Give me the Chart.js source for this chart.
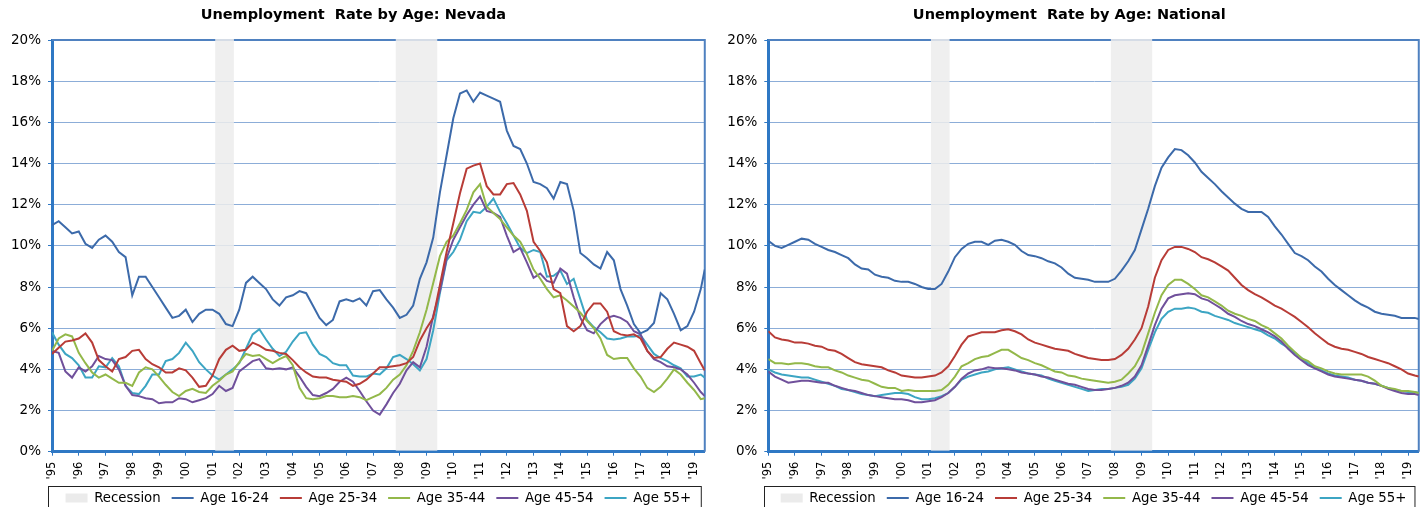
<!DOCTYPE html>
<html>
<head>
<meta charset="utf-8">
<script src="https://cdn.jsdelivr.net/npm/chart.js@4.4.1/dist/chart.umd.min.js"></script>
<style>
    html, body { margin: 0; padding: 0; background: #ffffff; }
    #wrap { display: flex; width: 1428px; height: 507px; overflow: hidden; }
    .box { position: relative; width: 714px; height: 507px; }
</style>
</head>
<body>
<div id="wrap">
    <div class="box"><canvas id="nevadaChart"></canvas></div>
    <div class="box"><canvas id="nationalChart"></canvas></div>
</div>
<script>
// quarterly readings, Jan 1995 .. Apr 2019, plus the last month shown (May 2019)
const quarters = [];
for (let q = 0; q < 98; q++) quarters.push(1995 + q / 4);
quarters.push(2019.4);

const recessionStart = [2001.1, 2007.85];
const recessionEnd = [2001.8, 2009.4];

const seriesLabels = ['Age 16-24', 'Age 25-34', 'Age 35-44', 'Age 45-54', 'Age 55+'];
const seriesColors = ['#3C6AAA', '#B83C37', '#93B84A', '#70509B', '#3CA5C3'];

// Nevada
const nvAge16to24 = [
    11.0, 11.2, 10.9, 10.6,
    10.7, 10.1, 9.9, 10.3,
    10.5, 10.2, 9.7, 9.45,
    7.6, 8.5, 8.5, 8.0,
    7.5, 7.0, 6.5, 6.6,
    6.9, 6.3, 6.7, 6.9,
    6.9, 6.7, 6.2, 6.1,
    6.9, 8.2, 8.5, 8.2,
    7.9, 7.4, 7.1, 7.5,
    7.6, 7.8, 7.7, 7.1,
    6.5, 6.15, 6.4, 7.3,
    7.4, 7.3, 7.45, 7.1,
    7.8, 7.85, 7.4, 7.0,
    6.5, 6.65, 7.1, 8.4,
    9.2, 10.4, 12.6, 14.4,
    16.2, 17.4, 17.55, 17.0,
    17.45, 17.3, 17.15, 17.0,
    15.6, 14.85, 14.7, 14.0,
    13.1, 13.0, 12.8, 12.3,
    13.1, 13.0, 11.7, 9.65,
    9.4, 9.1, 8.9, 9.7,
    9.3, 7.9, 7.1, 6.2,
    5.75, 5.9, 6.25, 7.7,
    7.4, 6.7, 5.9, 6.1,
    6.8, 7.9, 8.85
];
const nvAge25to34 = [
    4.75, 5.05, 5.35, 5.4,
    5.5, 5.75, 5.3, 4.45,
    4.15, 3.9, 4.5, 4.6,
    4.9, 4.95, 4.5, 4.25,
    4.1, 3.85, 3.85, 4.05,
    3.95, 3.6, 3.15, 3.2,
    3.7, 4.5, 4.95, 5.15,
    4.9, 4.95, 5.3, 5.15,
    4.95, 4.9, 4.8, 4.75,
    4.45, 4.1, 3.85, 3.65,
    3.6, 3.6, 3.5, 3.45,
    3.4, 3.2, 3.3, 3.5,
    3.8, 4.1, 4.1, 4.15,
    4.2, 4.3, 4.6, 5.4,
    6.0, 6.5, 8.1, 9.7,
    11.1, 12.55, 13.75, 13.9,
    14.0, 12.9, 12.5, 12.5,
    13.0, 13.05, 12.5, 11.7,
    10.2, 9.75, 9.2, 7.9,
    7.7, 6.1, 5.85, 6.1,
    6.8, 7.2, 7.2, 6.8,
    5.85, 5.7, 5.65, 5.7,
    5.5, 4.9, 4.55, 4.6,
    5.0, 5.3, 5.2, 5.1,
    4.9, 4.3, 3.95
];
const nvAge35to44 = [
    4.9, 5.5, 5.7, 5.6,
    4.8, 4.3, 3.85, 3.6,
    3.75, 3.55, 3.35, 3.35,
    3.2, 3.85, 4.1, 4.0,
    3.65, 3.25, 2.9, 2.7,
    2.95, 3.05, 2.9, 2.85,
    3.2, 3.45, 3.75, 3.9,
    4.35, 4.75, 4.65, 4.7,
    4.5, 4.3, 4.5, 4.65,
    4.2, 3.1, 2.6, 2.55,
    2.6, 2.7, 2.7, 2.65,
    2.65, 2.7, 2.65, 2.5,
    2.65, 2.8, 3.1, 3.5,
    3.75, 4.2, 4.9, 5.8,
    6.9, 8.2, 9.5, 10.2,
    10.5, 11.1, 11.75, 12.6,
    13.0, 11.9, 11.6, 11.3,
    10.9, 10.5, 10.2, 9.6,
    8.85, 8.4, 7.9, 7.5,
    7.6, 7.35, 7.05, 6.75,
    6.35, 6.0, 5.5, 4.7,
    4.5, 4.55, 4.55, 4.05,
    3.65, 3.1, 2.9, 3.15,
    3.55, 4.0, 3.75, 3.35,
    3.0, 2.55, 2.6
];
const nvAge45to54 = [
    4.9, 4.8, 3.9, 3.6,
    4.1, 3.9, 4.15, 4.65,
    4.5, 4.45, 4.0, 3.2,
    2.75, 2.7, 2.6, 2.55,
    2.35, 2.4, 2.4, 2.6,
    2.55, 2.4, 2.5, 2.6,
    2.8, 3.2, 2.95, 3.1,
    3.9, 4.15, 4.4, 4.5,
    4.05, 4.0, 4.05, 4.0,
    4.1, 3.65, 3.15, 2.75,
    2.7, 2.85, 3.05, 3.4,
    3.6, 3.4, 2.95, 2.45,
    2.0, 1.8, 2.3, 2.85,
    3.3, 3.95, 4.35, 4.1,
    5.1, 6.6, 7.8, 9.4,
    10.3, 10.9, 11.5, 12.0,
    12.4, 11.7, 11.6, 11.4,
    10.5, 9.7, 9.9, 9.2,
    8.45, 8.65, 8.3, 8.2,
    8.9, 8.65, 7.5, 6.5,
    5.9, 5.75, 6.2, 6.5,
    6.6, 6.5, 6.3, 5.85,
    5.7, 4.9, 4.5, 4.35,
    4.15, 4.1, 4.0, 3.75,
    3.35, 2.9, 2.7
];
const nvAge55plus = [
    5.8, 5.2, 4.75, 4.55,
    4.2, 3.6, 3.6, 4.15,
    4.1, 4.55, 4.15, 3.2,
    2.85, 2.8, 3.2, 3.75,
    3.75, 4.4, 4.5, 4.8,
    5.3, 4.9, 4.35, 4.0,
    3.7, 3.5, 3.75, 4.0,
    4.3, 5.0, 5.7, 5.95,
    5.45, 5.0, 4.65, 4.85,
    5.35, 5.75, 5.8, 5.2,
    4.75, 4.6, 4.3, 4.2,
    4.2, 3.7, 3.65, 3.65,
    3.8, 3.75, 4.05, 4.6,
    4.7, 4.5, 4.25, 3.95,
    4.5, 5.9, 7.7, 9.3,
    9.7, 10.3, 11.2, 11.65,
    11.6, 11.9, 12.3, 11.65,
    11.1, 10.5, 9.9, 9.65,
    9.8, 9.7, 8.5, 8.55,
    8.8, 8.15, 8.4, 7.4,
    6.4, 6.05, 5.8, 5.5,
    5.45, 5.5, 5.6, 5.6,
    5.65, 5.2, 4.75, 4.55,
    4.4, 4.2, 4.05, 3.65,
    3.65, 3.75, 3.6
];

// National
const usAge16to24 = [
    10.25, 10.0, 9.9, 10.05,
    10.2, 10.35, 10.3, 10.1,
    9.95, 9.8, 9.7, 9.55,
    9.4, 9.1, 8.9, 8.85,
    8.6, 8.5, 8.45, 8.3,
    8.25, 8.25, 8.15, 8.0,
    7.9, 7.9, 8.15, 8.75,
    9.45, 9.85, 10.1, 10.2,
    10.2, 10.05, 10.25, 10.3,
    10.2, 10.05, 9.75, 9.55,
    9.5, 9.4, 9.25, 9.15,
    8.95, 8.65, 8.45, 8.4,
    8.35, 8.25, 8.25, 8.25,
    8.4, 8.8, 9.25, 9.8,
    10.8, 11.8, 12.9, 13.8,
    14.3, 14.7, 14.65, 14.4,
    14.05, 13.6, 13.3, 13.0,
    12.65, 12.35, 12.05, 11.8,
    11.65, 11.65, 11.65, 11.4,
    10.95, 10.55, 10.1, 9.65,
    9.5, 9.3, 9.0, 8.75,
    8.4, 8.1, 7.85, 7.6,
    7.35, 7.15, 7.0, 6.8,
    6.7, 6.65, 6.6, 6.5,
    6.5, 6.5, 6.45
];
const usAge25to34 = [
    5.85, 5.55, 5.45, 5.4,
    5.3, 5.3, 5.25, 5.15,
    5.1, 4.95, 4.9, 4.75,
    4.55, 4.35, 4.25, 4.2,
    4.15, 4.1, 3.95, 3.85,
    3.7, 3.65, 3.6, 3.6,
    3.65, 3.7, 3.85, 4.15,
    4.65, 5.2, 5.6, 5.7,
    5.8, 5.8, 5.8, 5.9,
    5.95, 5.85, 5.7, 5.45,
    5.3, 5.2, 5.1, 5.0,
    4.95, 4.9, 4.75, 4.65,
    4.55, 4.5, 4.45, 4.45,
    4.5, 4.7, 5.0, 5.45,
    6.0, 7.05, 8.45, 9.3,
    9.8, 9.95, 9.95, 9.85,
    9.7, 9.45, 9.35, 9.2,
    9.0, 8.8, 8.45, 8.1,
    7.85, 7.65, 7.5, 7.3,
    7.1, 6.95, 6.75, 6.55,
    6.3, 6.05, 5.75, 5.5,
    5.25, 5.1, 5.0, 4.95,
    4.85, 4.75, 4.6, 4.5,
    4.4, 4.3, 4.15, 4.0,
    3.8, 3.7, 3.65
];
const usAge35to44 = [
    4.5, 4.3, 4.3, 4.25,
    4.3, 4.3, 4.25, 4.15,
    4.1, 4.1, 3.95, 3.85,
    3.7, 3.6, 3.5, 3.45,
    3.3, 3.15, 3.1, 3.1,
    2.95, 3.0, 2.95, 2.95,
    2.95, 2.95, 3.0, 3.25,
    3.65, 4.15, 4.3, 4.5,
    4.6, 4.65, 4.8, 4.95,
    4.95, 4.75, 4.55, 4.45,
    4.3, 4.2, 4.05, 3.9,
    3.85, 3.7, 3.65, 3.55,
    3.5, 3.45, 3.4, 3.35,
    3.4, 3.5, 3.8, 4.15,
    4.75, 5.75, 6.75, 7.6,
    8.1, 8.35, 8.35, 8.15,
    7.9, 7.6, 7.5, 7.3,
    7.1, 6.85, 6.7, 6.6,
    6.45, 6.35, 6.15, 6.0,
    5.75, 5.5, 5.15, 4.85,
    4.55, 4.4, 4.15, 4.05,
    3.9, 3.8, 3.75, 3.75,
    3.75, 3.75, 3.65, 3.45,
    3.2, 3.1, 3.05, 2.95,
    2.95, 2.9, 2.85
];
const usAge45to54 = [
    3.9, 3.65, 3.5, 3.35,
    3.4, 3.45, 3.45, 3.4,
    3.35, 3.35, 3.2, 3.1,
    3.0, 2.95, 2.85, 2.75,
    2.7, 2.65, 2.6, 2.55,
    2.55, 2.5, 2.4, 2.4,
    2.45, 2.5, 2.65, 2.85,
    3.15, 3.55, 3.8, 3.95,
    4.0, 4.1, 4.05, 4.05,
    4.0, 3.95, 3.85, 3.8,
    3.75, 3.65, 3.6, 3.5,
    3.4, 3.3, 3.25, 3.15,
    3.05, 3.0, 3.0, 3.05,
    3.1, 3.2, 3.35, 3.65,
    4.2, 5.15, 6.15, 6.95,
    7.45, 7.6, 7.65, 7.7,
    7.65, 7.45, 7.35, 7.15,
    6.95, 6.7, 6.55, 6.35,
    6.2, 6.1, 5.95, 5.8,
    5.6, 5.35, 5.0, 4.7,
    4.45, 4.2, 4.05, 3.9,
    3.75, 3.65, 3.6, 3.55,
    3.5, 3.45, 3.35, 3.3,
    3.2, 3.05, 2.95, 2.85,
    2.8, 2.8, 2.75
];
const usAge55plus = [
    4.0, 3.85, 3.75, 3.7,
    3.65, 3.6, 3.6, 3.5,
    3.4, 3.3, 3.2, 3.05,
    3.0, 2.9, 2.8, 2.75,
    2.7, 2.75, 2.8, 2.85,
    2.85, 2.8, 2.65, 2.55,
    2.55, 2.6, 2.7, 2.85,
    3.15, 3.5, 3.65, 3.75,
    3.85, 3.9, 4.0, 4.05,
    4.1, 4.0, 3.9, 3.8,
    3.75, 3.7, 3.55, 3.45,
    3.35, 3.25, 3.15, 3.05,
    2.95, 3.0, 3.05, 3.05,
    3.1, 3.15, 3.25, 3.55,
    4.05, 4.95, 5.8, 6.45,
    6.8, 6.95, 6.95, 7.0,
    6.95, 6.8, 6.75, 6.6,
    6.5, 6.4, 6.25, 6.15,
    6.05, 5.95, 5.85, 5.65,
    5.5, 5.25, 5.05, 4.8,
    4.55, 4.3, 4.1, 3.95,
    3.8, 3.7, 3.65, 3.6,
    3.5, 3.45, 3.35, 3.3,
    3.2, 3.1, 3.0, 2.95,
    2.9, 2.9, 2.85
];

const AXIS_BLUE = '#2F78C4';
const FRAME_BLUE = '#4F81C0';
const GRID_BLUE = '#8CADD8';

// grey recession columns, drawn over the grid but under the lines
const recessionShade = {
    id: 'recessionShade',
    beforeDatasetsDraw: function (chart) {
        const ctx = chart.ctx;
        const area = chart.chartArea;
        const x = chart.scales.x;
        ctx.save();
        // plot frame (top and right)
        ctx.strokeStyle = FRAME_BLUE;
        ctx.lineWidth = 2;
        ctx.beginPath();
        ctx.moveTo(area.left, area.top);
        ctx.lineTo(area.right, area.top);
        ctx.lineTo(area.right, area.bottom);
        ctx.stroke();
        ctx.fillStyle = 'rgba(236,236,236,0.85)';
        for (let i = 0; i < recessionStart.length; i++) {
            const x0 = x.getPixelForValue(recessionStart[i]);
            const x1 = x.getPixelForValue(recessionEnd[i]);
            ctx.fillRect(x0, area.top - 1, x1 - x0, area.bottom - area.top);
        }
        ctx.restore();
    }
};

const legendFrame = {
    id: 'legendFrame',
    afterDraw: function (chart) {
        const ctx = chart.ctx;
        const area = chart.chartArea;
        ctx.save();
        ctx.strokeStyle = '#222222';
        ctx.lineWidth = 1;
        ctx.strokeRect(Math.round(area.left - 4) + 0.5, 486.5, area.width, 60);
        ctx.restore();
    }
};

function isYear(v) {
    return Math.abs(v - Math.round(v)) < 1e-6;
}

function makeChart(canvasId, titleText, seriesValues, padLeft, padRight) {
    const datasets = [{
        label: 'Recession',
        data: [],
        backgroundColor: '#EBEBEB',
        borderColor: '#EBEBEB',
        borderWidth: 0,
        pointStyle: 'rect'
    }];
    for (let s = 0; s < seriesValues.length; s++) {
        datasets.push({
            label: seriesLabels[s],
            data: quarters.map(function (q, i) { return { x: q, y: seriesValues[s][i] }; }),
            borderColor: seriesColors[s],
            backgroundColor: seriesColors[s],
            borderWidth: 2,
            pointRadius: 0,
            pointStyle: 'line',
            tension: 0,
            fill: false
        });
    }

    const ctx = document.getElementById(canvasId).getContext('2d');
    return new Chart(ctx, {
        type: 'line',
        data: { datasets: datasets },
        plugins: [recessionShade, legendFrame],
        options: {
            responsive: true,
            maintainAspectRatio: false,
            animation: false,
            layout: {
                padding: { left: padLeft, right: padRight, top: 0, bottom: 0 }
            },
            plugins: {
                title: {
                    display: true,
                    text: titleText,
                    color: '#000000',
                    font: { family: 'DejaVu Sans', size: 14.5, weight: 'bold' },
                    padding: { top: 6.3, bottom: 16.3 }
                },
                legend: {
                    position: 'bottom',
                    fullSize: false,
                    maxHeight: 26.6,
                    labels: {
                        usePointStyle: true,
                        pointStyleWidth: 22,
                        boxHeight: 9,
                        padding: 11,
                        color: '#000000',
                        font: { family: 'DejaVu Sans', size: 13.3 }
                    }
                },
                tooltip: { enabled: false }
            },
            scales: {
                x: {
                    type: 'linear',
                    min: 1995,
                    max: 2019.4,
                    afterBuildTicks: function (scale) {
                        scale.ticks = scale.ticks.filter(function (t) { return isYear(t.value); });
                    },
                    afterFit: function (scale) {
                        scale.height = 28.7;
                    },
                    border: { color: AXIS_BLUE, width: 3 },
                    grid: {
                        drawOnChartArea: false,
                        drawTicks: true,
                        tickLength: 4,
                        color: AXIS_BLUE
                    },
                    ticks: {
                        stepSize: 1,
                        includeBounds: false,
                        autoSkip: false,
                        minRotation: 90,
                        maxRotation: 90,
                        padding: 6,
                        color: '#000000',
                        font: { family: 'DejaVu Sans', size: 11.5 },
                        callback: function (value) {
                            return "'" + String(Math.round(value)).slice(2);
                        }
                    }
                },
                y: {
                    min: 0,
                    max: 20,
                    afterFit: function (scale) {
                        scale.width = 52;
                    },
                    border: { color: AXIS_BLUE, width: 3 },
                    grid: {
                        color: function (context) {
                            if (context.tick.value == 0 || context.tick.value == 20) {
                                return 'rgba(0,0,0,0)';
                            }
                            return GRID_BLUE;
                        },
                        tickColor: AXIS_BLUE,
                        tickLength: 4,
                        lineWidth: 1
                    },
                    ticks: {
                        stepSize: 2,
                        padding: 7,
                        color: '#000000',
                        font: { family: 'DejaVu Sans', size: 13.5 },
                        callback: function (value) {
                            return value + '%';
                        }
                    }
                }
            }
        }
    });
}

makeChart('nevadaChart', 'Unemployment  Rate by Age: Nevada',
    [nvAge16to24, nvAge25to34, nvAge35to44, nvAge45to54, nvAge55plus], 0, 7.3);
makeChart('nationalChart', 'Unemployment  Rate by Age: National',
    [usAge16to24, usAge25to34, usAge35to44, usAge45to54, usAge55plus], 2.3, 5.7);
</script>
</body>
</html>
